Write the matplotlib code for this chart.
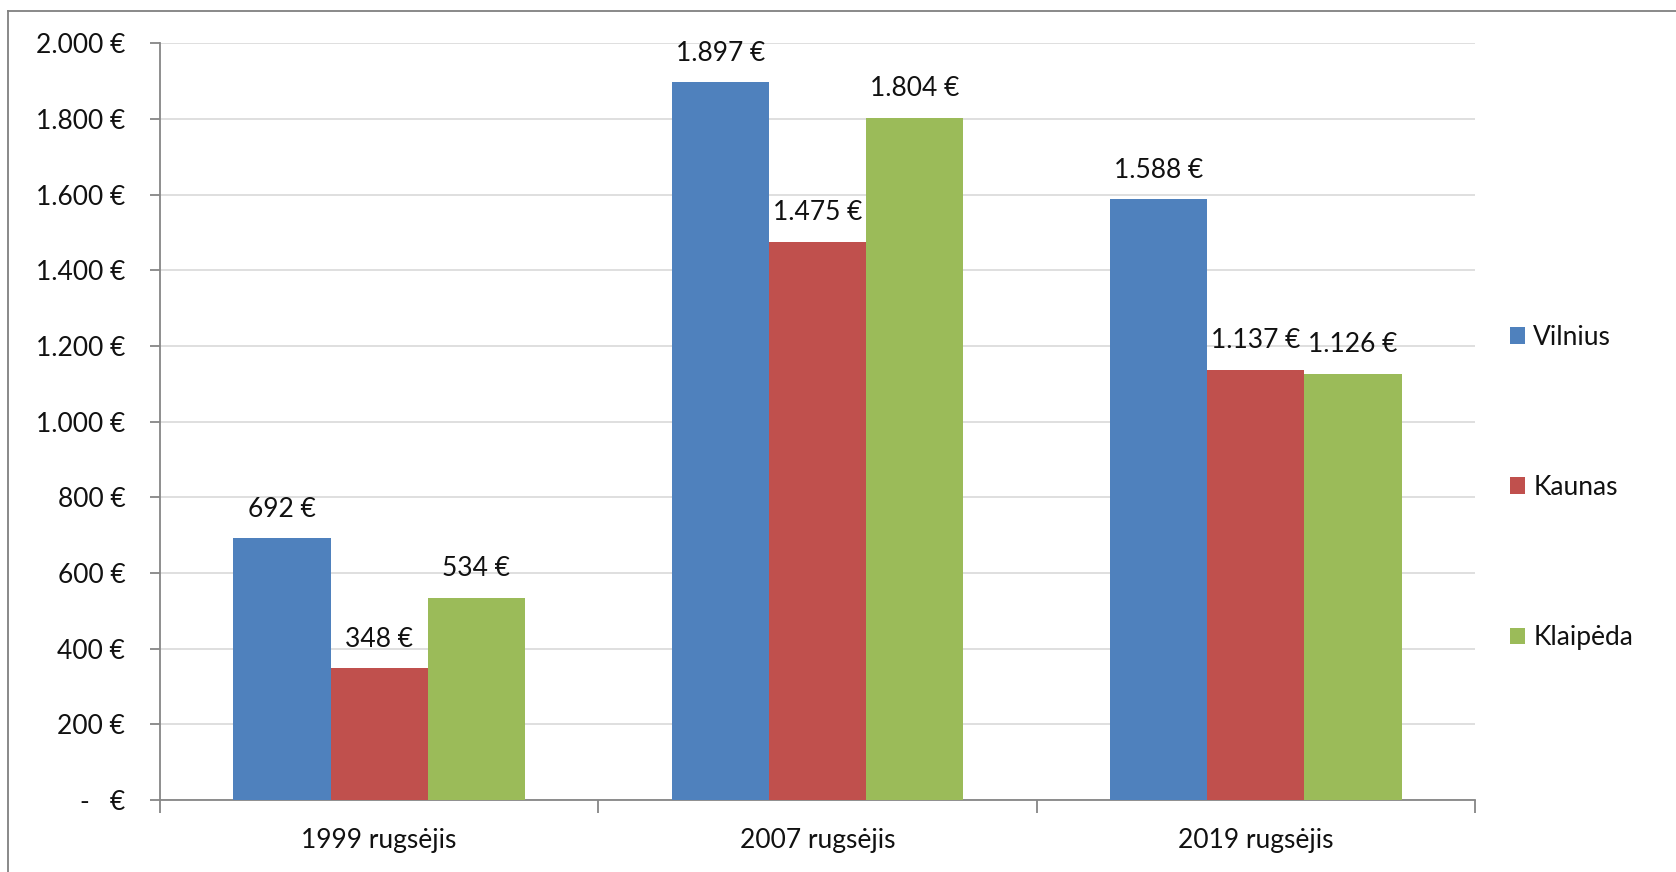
import numpy as np
import matplotlib.pyplot as plt
from matplotlib.lines import Line2D

plt.rcParams['font.family'] = ['Lato', 'DejaVu Sans']

periods = ['1999 rugsėjis', '2007 rugsėjis', '2019 rugsėjis']
cities = ['Vilnius', 'Kaunas', 'Klaipėda']
vilnius = [692, 1897, 1588]
kaunas = [348, 1475, 1137]
klaipeda = [534, 1804, 1126]
colours = ['#4F81BD', '#C0504D', '#9BBB59']
yticks = [0, 200, 400, 600, 800, 1000, 1200, 1400, 1600, 1800, 2000]

FS = 19
TXT = '#111111'


def euro(v):
    if v == 0:
        return '-   €'
    return f'{v:,.0f} €'.replace(',', '.')


fig = plt.figure(figsize=(16.76, 8.72), dpi=100)
ax = fig.add_axes([160 / 1676, 1 - 800 / 872, 1315 / 1676, (800 - 43.5) / 872])

x = np.arange(len(periods))
w = 0.222
for k, (vals, col) in enumerate(zip([vilnius, kaunas, klaipeda], colours)):
    pos = x + (k - 1) * w
    ax.bar(pos, vals, width=w, color=col, label=cities[k], zorder=3)
    for p, v in zip(pos, vals):
        ax.annotate(euro(v), (p, v), xytext=(0, 21), textcoords='offset points',
                    ha='center', va='center', fontsize=FS, color=TXT, zorder=4)

ax.set_xlim(-0.5, 2.5)
ax.set_ylim(0, 2000)
ax.set_yticks(yticks)
ax.set_yticklabels([euro(v) for v in yticks], fontsize=FS, color=TXT)
ax.yaxis.grid(True, color='#D9D9D9', linewidth=1.2, zorder=0)

ax.set_xticks([-0.5, 0.5, 1.5, 2.5])
ax.set_xticklabels([])
ax.set_xticks(x, minor=True)
ax.set_xticklabels(periods, minor=True, fontsize=FS, color=TXT)
ax.tick_params(axis='x', which='minor', length=0, pad=20)
ax.tick_params(axis='x', which='major', length=9, width=1.3, color='#868686', direction='out')
ax.tick_params(axis='y', length=7, width=1.3, color='#868686', direction='out', pad=18)

for s in ['top', 'right']:
    ax.spines[s].set_visible(False)
for s in ['left', 'bottom']:
    ax.spines[s].set_color('#868686')
    ax.spines[s].set_linewidth(1.3)

leg = fig.legend(loc='upper left', bbox_to_anchor=(1499 / 1676, 1 - 314 / 872),
                 frameon=False, fontsize=FS, handlelength=0.6, handleheight=0.6,
                 handletextpad=0.3, labelspacing=4.75, borderaxespad=0)
for t in leg.get_texts():
    t.set_color(TXT)

# chart frame: top and left edge
fig.add_artist(Line2D([8 / 1676, 1], [1 - 11 / 872, 1 - 11 / 872],
                      color='#808080', linewidth=1.3, transform=fig.transFigure))
fig.add_artist(Line2D([8 / 1676, 8 / 1676], [0, 1 - 11 / 872],
                      color='#808080', linewidth=1.3, transform=fig.transFigure))

fig.savefig('out.png', dpi=100)
